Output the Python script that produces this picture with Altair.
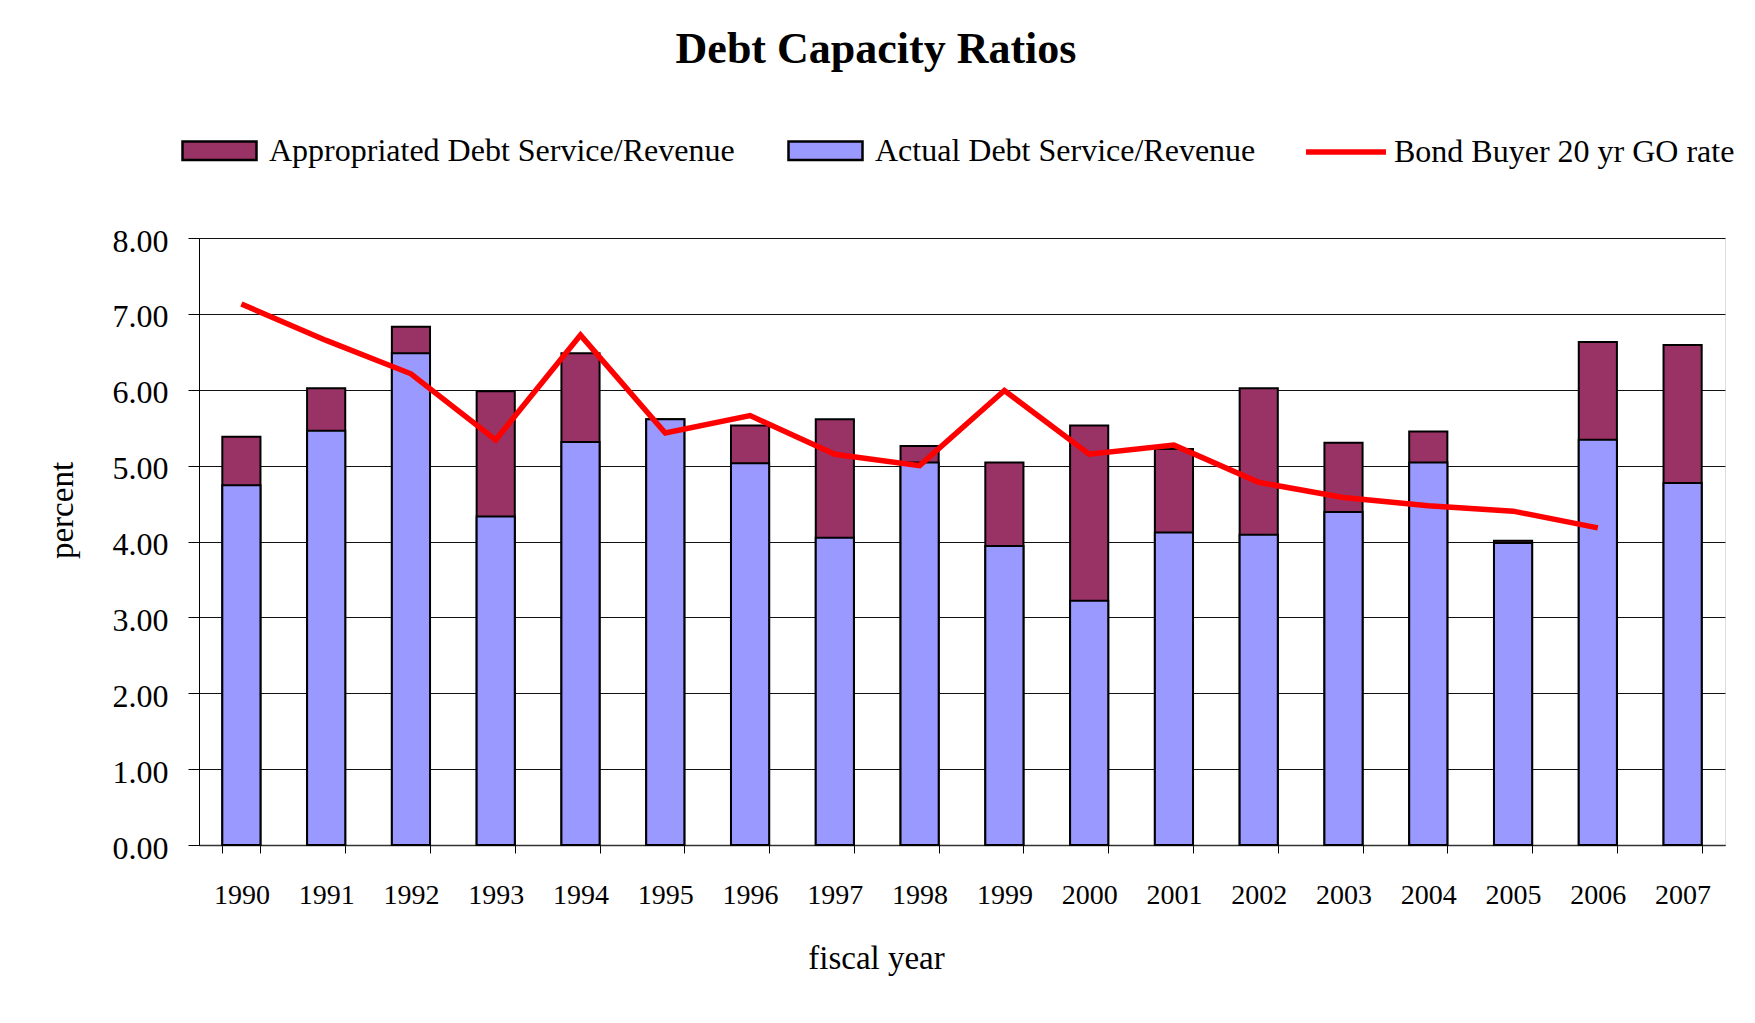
import altair as alt
import pandas as pd

# ---- data ----
years = ["1990", "1991", "1992", "1993", "1994", "1995", "1996", "1997", "1998",
         "1999", "2000", "2001", "2002", "2003", "2004", "2005", "2006", "2007"]
appropriated = [5.38, 6.02, 6.83, 5.98, 6.48, 5.61, 5.53, 5.61, 5.26,
                5.04, 5.53, 5.22, 6.02, 5.30, 5.45, 4.01, 6.63, 6.59]
actual = [4.74, 5.46, 6.48, 4.33, 5.31, 5.61, 5.03, 4.05, 5.04,
          3.94, 3.22, 4.12, 4.09, 4.39, 5.04, 3.98, 5.34, 4.77]
bond_rate = [7.13, 6.65, 6.21, 5.34, 6.72, 5.43, 5.66, 5.15, 5.00,
             5.99, 5.15, 5.27, 4.78, 4.58, 4.47, 4.40, 4.18, None]
y_ticks = [0, 1, 2, 3, 4, 5, 6, 7, 8]

S_APP = "Appropriated Debt Service/Revenue"
S_ACT = "Actual Debt Service/Revenue"
S_BOND = "Bond Buyer 20 yr GO rate"
bar_series = [S_APP, S_ACT]
bar_colors = ["#993366", "#9999FF"]

df = pd.DataFrame({"year": years, "appropriated": appropriated,
                   "actual": actual, "bond": bond_rate})

FONT = "Liberation Serif"

x_enc = alt.X(
    "year:N", sort=years, title="fiscal year",
    scale=alt.Scale(paddingInner=0.55, paddingOuter=0.275),
    axis=alt.Axis(labelAngle=0, labelFont=FONT, labelFontSize=28, labelColor="black",
                  labelPadding=28, tickSize=8, tickColor="black", tickBand="extent",
                  domainColor="#333333", domainWidth=1.5, grid=False,
                  titleFont=FONT, titleFontSize=33, titleFontWeight="normal",
                  titleColor="black", titleX=677, titleY=123, titleAlign="center",
                  titleBaseline="alphabetic"),
)

y_axis = alt.Axis(values=y_ticks, format=".2f", labelFont=FONT, labelFontSize=32,
                  labelColor="black", labelPadding=20, labelOffset=3,
                  tickSize=11, tickColor="black", domainColor="black",
                  grid=True, gridColor="#111111", gridWidth=1,
                  titleFont=FONT, titleFontSize=33, titleFontWeight="normal",
                  titleColor="black", titleX=-127, titleY=272, titleAngle=-90,
                  titleAlign="center", titleBaseline="alphabetic")
y_scale = alt.Scale(domain=[0, 8])

fill_scale = alt.Scale(domain=bar_series, range=bar_colors)
fill_legend = alt.Legend(title=None, orient="none", legendX=-18, legendY=-126,
                         direction="horizontal", symbolType="M-1,-0.25H1V0.25H-1Z",
                         symbolSize=5476, symbolStrokeColor="black", symbolStrokeWidth=2.5,
                         labelFont=FONT, labelFontSize=32, labelColor="black",
                         labelOffset=11, columnPadding=48, padding=0, labelLimit=800)

base = alt.Chart(df)

app_bars = base.transform_calculate(series=f"'{S_APP}'").mark_bar(
    stroke="black", strokeWidth=2).encode(
    x=x_enc,
    y=alt.Y("appropriated:Q", scale=y_scale, axis=y_axis, title="percent"),
    fill=alt.Fill("series:N", scale=fill_scale, legend=fill_legend),
)

act_bars = base.transform_calculate(series=f"'{S_ACT}'").mark_bar(
    stroke="black", strokeWidth=2).encode(
    x=alt.X("year:N", sort=years),
    y=alt.Y("actual:Q", title="percent"),
    fill=alt.Fill("series:N"),
)

line = base.transform_calculate(line_series=f"'{S_BOND}'").mark_line(
    strokeWidth=5.5, strokeJoin="miter").encode(
    x=alt.X("year:N", sort=years),
    y=alt.Y("bond:Q", title="percent"),
    stroke=alt.Stroke(
        "line_series:N",
        scale=alt.Scale(domain=[S_BOND], range=["#FF0000"]),
        legend=alt.Legend(title=None, orient="none", legendX=1104, legendY=-129,
                          symbolType="stroke", symbolSize=6400, symbolStrokeWidth=5.5,
                          labelFont=FONT, labelFontSize=32, labelColor="black",
                          labelOffset=5, padding=0, labelLimit=800),
    ),
)

chart = alt.layer(app_bars, act_bars, line).properties(
    width=1526,
    height=607,
    padding={"left": 191, "top": 230, "right": 22, "bottom": 170},
    autosize=alt.AutoSizeParams(type="none"),
    title=alt.TitleParams("Debt Capacity Ratios", font=FONT, fontSize=44,
                          fontWeight="bold", color="black", anchor="middle",
                          frame="group", offset=2, dx=-86, baseline="alphabetic"),
).configure_view(stroke="#808080", strokeWidth=2).configure(background="white")

chart.save("out.html", embed_options={"renderer": "svg", "actions": False})
